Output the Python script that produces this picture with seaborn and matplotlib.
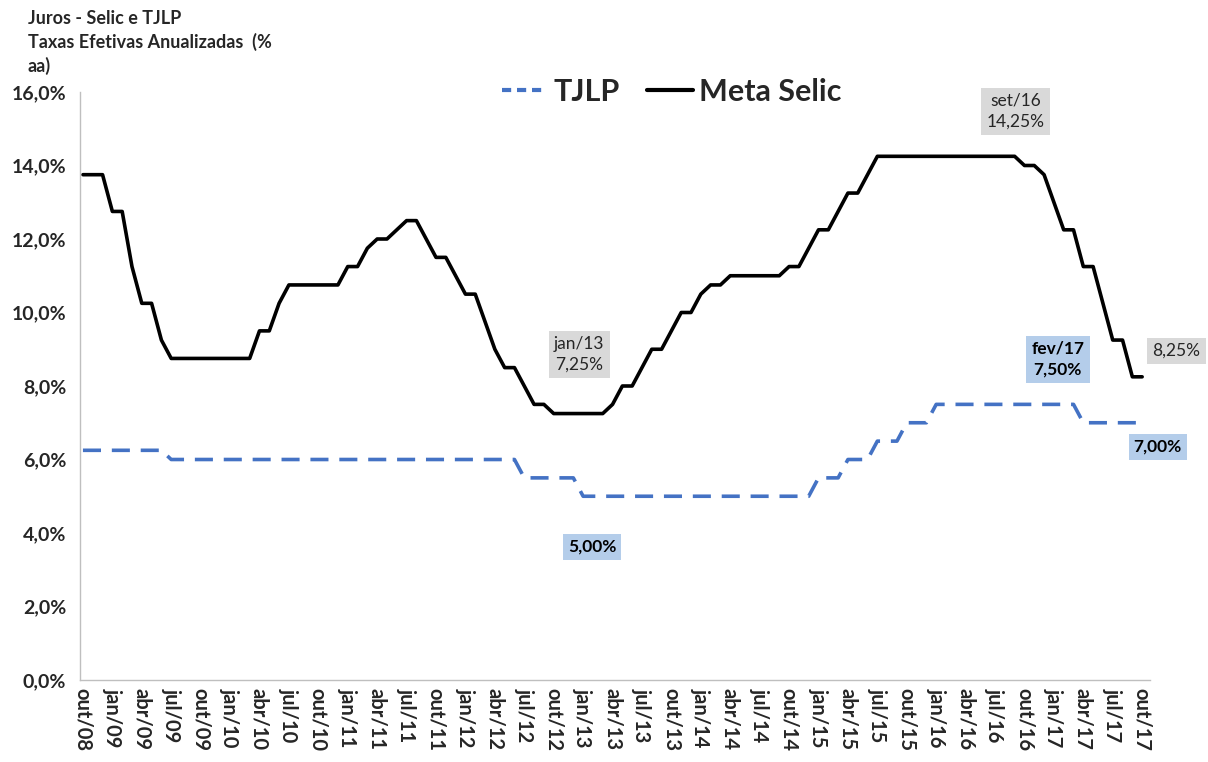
import numpy as np
import pandas as pd
import matplotlib
matplotlib.use("Agg")
import matplotlib.pyplot as plt
import seaborn as sns
from matplotlib.lines import Line2D

# ---- data (monthly, out/08 .. out/17) ----
meta_selic = [13.75, 13.75, 13.75, 12.75, 12.75, 11.25, 10.25, 10.25, 9.25, 8.75,   # out/08 - jul/09
              8.75, 8.75, 8.75, 8.75, 8.75, 8.75, 8.75, 8.75, 9.50, 9.50,          # ago/09 - mai/10
              10.25, 10.75, 10.75, 10.75, 10.75, 10.75, 10.75, 11.25, 11.25, 11.75,# jun/10 - mar/11
              12.00, 12.00, 12.25, 12.50, 12.50, 12.00, 11.50, 11.50, 11.00, 10.50,# abr/11 - jan/12
              10.50, 9.75, 9.00, 8.50, 8.50, 8.00, 7.50, 7.50, 7.25, 7.25,         # fev/12 - nov/12
              7.25, 7.25, 7.25, 7.25, 7.50, 8.00, 8.00, 8.50, 9.00, 9.00,          # dez/12 - set/13
              9.50, 10.00, 10.00, 10.50, 10.75, 10.75, 11.00, 11.00, 11.00, 11.00, # out/13 - jul/14
              11.00, 11.00, 11.25, 11.25, 11.75, 12.25, 12.25, 12.75, 13.25, 13.25,# ago/14 - mai/15
              13.75, 14.25, 14.25, 14.25, 14.25, 14.25, 14.25, 14.25, 14.25, 14.25,# jun/15 - mar/16
              14.25, 14.25, 14.25, 14.25, 14.25, 14.25, 14.00, 14.00, 13.75, 13.00,# abr/16 - jan/17
              12.25, 12.25, 11.25, 11.25, 10.25, 9.25, 9.25, 8.25, 8.25]           # fev/17 - out/17

tjlp = ([6.25] * 9 + [6.00] * 36 + [5.50] * 6 + [5.00] * 24 + [5.50] * 3 +
        [6.00] * 3 + [6.50] * 3 + [7.00] * 3 + [7.50] * 15 + [7.00] * 7)

tick_labels = ["out/08", "jan/09", "abr/09", "jul/09", "out/09", "jan/10", "abr/10",
               "jul/10", "out/10", "jan/11", "abr/11", "jul/11", "out/11", "jan/12",
               "abr/12", "jul/12", "out/12", "jan/13", "abr/13", "jul/13", "out/13",
               "jan/14", "abr/14", "jul/14", "out/14", "jan/15", "abr/15", "jul/15",
               "out/15", "jan/16", "abr/16", "jul/16", "out/16", "jan/17", "abr/17",
               "jul/17", "out/17"]
y_ticks = [0, 2, 4, 6, 8, 10, 12, 14, 16]

annot_grey = [("jan/13\n7,25%", 50.6, 8.87), ("set/16\n14,25%", 95.1, 15.48),
              ("8,25%", 111.5, 8.95)]
annot_blue = [("fev/17\n7,50%", 99.4, 8.73), ("7,00%", 109.6, 6.34),
              ("5,00%", 51.9, 3.62)]

df = pd.DataFrame({"mes": np.arange(len(meta_selic)), "selic": meta_selic, "tjlp": tjlp})

sns.set_theme(style="white")
plt.rcParams["font.family"] = ["Lato", "DejaVu Sans"]

fig = plt.figure(figsize=(12.08, 7.62), dpi=100)
ax = fig.add_axes([80 / 1208, 1 - 680 / 762, (1150 - 80) / 1208, (680 - 92) / 762])

blue = "#4472C4"
sns.lineplot(data=df, x="mes", y="tjlp", ax=ax, color=blue, linewidth=2.6,
             linestyle=(0, (5, 3)))
sns.lineplot(data=df, x="mes", y="selic", ax=ax, color="black", linewidth=2.6)

ax.set_xlim(-0.3, 108.8)
ax.set_ylim(0, 16)
ax.set_xlabel("")
ax.set_ylabel("")
ax.set_xticks(np.arange(0, len(meta_selic), 3))
ax.set_xticklabels(tick_labels, rotation=270, fontsize=14.5, fontweight="bold",
                   va="top", ha="center")
ax.set_yticks(y_ticks)
ax.set_yticklabels([f"{v:.1f}%".replace(".", ",") for v in y_ticks],
                   fontsize=14, fontweight="bold")
ax.tick_params(axis="x", length=0, pad=6)
ax.tick_params(axis="y", length=0, pad=10)
for s in ["top", "right"]:
    ax.spines[s].set_visible(False)
for s in ["left", "bottom"]:
    ax.spines[s].set_color("#BFBFBF")
    ax.spines[s].set_linewidth(1.0)
ax.grid(False)

# legend
handles = [Line2D([], [], color=blue, lw=3, linestyle=(0, (2.2, 1.4))),
           Line2D([], [], color="black", lw=3)]
leg = ax.legend(handles, ["TJLP", "Meta Selic"], loc="center", bbox_to_anchor=(0.553, 1.0),
                ncol=2, frameon=False, prop={"weight": "bold", "size": 22},
                handlelength=1.5, handletextpad=0.2, columnspacing=0.9)

# title
fig.text(28 / 1208, 1 - 10 / 762, "Juros - Selic e TJLP\nTaxas Efetivas Anualizadas  (%\naa)",
         fontsize=13, fontweight="bold", va="top", ha="left", linespacing=1.4)

for txt, x, y in annot_grey:
    ax.text(x, y, txt, ha="center", va="center", fontsize=12.5, color="#262626",
            linespacing=1.35, clip_on=False,
            bbox=dict(boxstyle="square,pad=0.3", fc="#D9D9D9", ec="none"))
for txt, x, y in annot_blue:
    ax.text(x, y, txt, ha="center", va="center", fontsize=12.5, fontweight="bold",
            color="black", linespacing=1.35, clip_on=False,
            bbox=dict(boxstyle="square,pad=0.3", fc="#B4CDEA", ec="none"))

fig.savefig("out.png", dpi=100)
